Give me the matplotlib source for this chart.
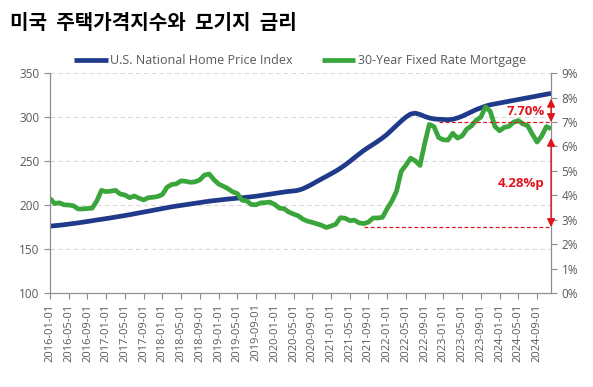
import matplotlib.pyplot as plt
import pandas as pd
from matplotlib.ticker import FuncFormatter

plt.rcParams['font.family'] = ['Open Sans', 'DejaVu Sans']

# monthly data, 2016-01 .. 2024-12
dates = pd.date_range('2016-01-01', '2024-12-01', freq='MS')

home_price = [
    176.0, 176.5, 177.0, 177.6, 178.3, 179.0, 179.7, 180.5, 181.3, 182.1, 183.0, 183.8,
    184.6, 185.4, 186.3, 187.2, 188.1, 189.0, 190.0, 191.0, 192.0, 193.0, 194.0, 195.0,
    196.0, 197.0, 198.0, 198.8, 199.6, 200.4, 201.2, 202.0, 202.8, 203.6, 204.4, 205.0,
    205.6, 206.2, 206.8, 207.3, 207.8, 208.3, 208.8, 209.4, 210.0, 210.8, 211.6, 212.4,
    213.2, 214.0, 214.8, 215.5, 216.0, 216.8, 218.5, 221.0, 223.8, 226.8, 229.7, 232.6,
    235.5, 238.5, 241.8, 245.5, 249.5, 253.8, 258.0, 262.0, 265.6, 269.0, 272.5, 276.3,
    280.5, 285.5, 290.5, 295.5, 300.0, 303.5, 304.5, 303.0, 300.8, 299.0, 298.0, 297.5,
    297.3, 297.0, 297.5, 299.0, 301.0, 303.5, 306.0, 308.5, 310.5, 312.5, 314.0, 315.0,
    316.0, 317.0, 318.0, 319.0, 320.0, 321.0, 322.0, 323.0, 324.0, 325.0, 326.0, 327.0,
]

mortgage = [
    3.87, 3.66, 3.69, 3.61, 3.60, 3.57, 3.44, 3.44, 3.46, 3.47, 3.77, 4.20,
    4.15, 4.17, 4.20, 4.05, 4.01, 3.90, 3.97, 3.88, 3.81, 3.90, 3.92, 3.95,
    4.03, 4.33, 4.44, 4.47, 4.59, 4.57, 4.53, 4.55, 4.63, 4.83, 4.87, 4.64,
    4.46, 4.37, 4.27, 4.14, 4.07, 3.80, 3.77, 3.62, 3.61, 3.69, 3.70, 3.72,
    3.62, 3.47, 3.45, 3.31, 3.23, 3.16, 3.02, 2.94, 2.89, 2.83, 2.77, 2.68,
    2.74, 2.81, 3.08, 3.06, 2.96, 2.98, 2.87, 2.84, 2.90, 3.07, 3.07, 3.10,
    3.45, 3.76, 4.17, 4.98, 5.23, 5.52, 5.41, 5.22, 6.11, 6.90, 6.81, 6.36,
    6.27, 6.26, 6.54, 6.34, 6.43, 6.71, 6.84, 7.07, 7.20, 7.62, 7.44, 6.82,
    6.64, 6.78, 6.82, 6.99, 7.06, 6.92, 6.85, 6.50, 6.18, 6.43, 6.81, 6.72,
]

tick_labels = [d.strftime('%Y-%m-%d') for d in dates[::4]]

# annotation levels (%)
upper_top, upper_low = 7.95, 7.0
lower_top, lower_low = 6.35, 2.7

blue = '#1f3a8a'
green = '#3aa53a'
red = '#e0141b'
grey = '#595959'

fig = plt.figure(figsize=(5.93, 3.87), dpi=100)
ax = fig.add_axes([0.0843, 0.243, 0.845, 0.568])
ax2 = ax.twinx()

x = list(range(len(dates)))
ax.plot(x, home_price, color=blue, lw=3.4, solid_capstyle='butt', zorder=3,
        label='U.S. National Home Price Index')
ax2.plot(x, mortgage, color=green, lw=3.4, solid_capstyle='butt', zorder=2,
         label='30-Year Fixed Rate Mortgage')

ax.set_xlim(0, len(dates) - 1)
ax.set_ylim(100, 350)
ax.set_yticks(range(100, 351, 50))
ax2.set_ylim(0, 9)
ax2.set_yticks(range(0, 10))
ax2.yaxis.set_major_formatter(FuncFormatter(lambda v, p: f'{v:.0f}%'))

ax.set_xticks(x[::4])
ax.set_xticklabels(tick_labels, rotation=90, fontsize=8, color=grey)
for y in range(150, 351, 50):
    ax.axhline(y, color='#d9d9d9', lw=0.8, ls=(0, (4, 3)), zorder=0)

for a in (ax, ax2):
    a.tick_params(axis='y', labelsize=8.5, colors='#8c8c8c', labelcolor=grey,
                  length=4, width=0.8, direction='out')
    a.spines['top'].set_visible(False)
    for s in ('left', 'right', 'bottom'):
        a.spines[s].set_color('#8c8c8c')
ax.tick_params(axis='x', length=4, width=0.8, colors='#8c8c8c', labelcolor=grey)

# annotations
xr = len(dates) - 1
ax2.hlines(upper_low, 83, xr, colors=red, lw=0.9, ls=(0, (3, 2)), zorder=4)
ax2.hlines(lower_low, 67, xr, colors=red, lw=0.9, ls=(0, (3, 2)), zorder=4)
arrow = dict(arrowstyle='<|-|>', color=red, lw=1.0, mutation_scale=12, shrinkA=0, shrinkB=0)
ax2.annotate('', xy=(xr, upper_top), xytext=(xr, upper_low), arrowprops=arrow, annotation_clip=False)
ax2.annotate('', xy=(xr, lower_top), xytext=(xr, lower_low), arrowprops=arrow, annotation_clip=False)
ax2.text(xr - 1.3, 7.45, '7.70%', color=red, fontsize=9.5, fontweight='bold', ha='right', va='center')
ax2.text(xr - 1.3, 4.5, '4.28%p', color=red, fontsize=9.5, fontweight='bold', ha='right', va='center')

h1, l1 = ax.get_legend_handles_labels()
h2, l2 = ax2.get_legend_handles_labels()
fig.legend(h1 + h2, l1 + l2, loc='center', bbox_to_anchor=(0.506, 0.843), ncol=2,
           frameon=False, fontsize=9, handlelength=2.7, handletextpad=0.2,
           columnspacing=2.3, labelcolor=grey)

fig.text(0.017, 0.943, '미국  주택가격지수와  모기지  금리', fontsize=14.5, fontweight='bold',
         family=['Noto Sans CJK KR', 'DejaVu Sans'], va='center', ha='left')

fig.savefig('out.png', dpi=100)
